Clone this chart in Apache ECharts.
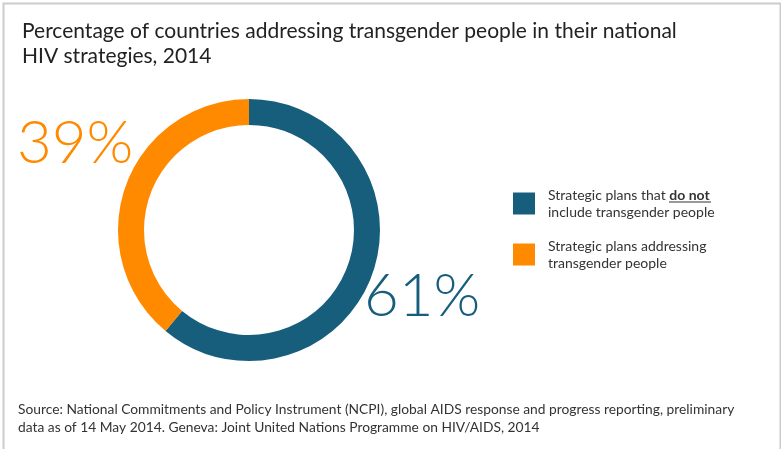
<!DOCTYPE html>
<html><head><meta charset="utf-8">
<script src="https://cdn.jsdelivr.net/npm/echarts@6/dist/echarts.min.js"></script>
<style>html,body{margin:0;padding:0;background:#fff}#c{width:781px;height:449px}</style>
</head><body><div id="c"></div>
<script>
const categories = ['Strategic plans that do not include transgender people', 'Strategic plans addressing transgender people'];
const values = [61, 39];
const colors = ['#175e7c', '#ff8a00'];

const chart = echarts.init(document.getElementById('c'), null, {renderer: 'canvas'});
const font = 'Lato, "Noto Sans", sans-serif';
chart.setOption({
  animation: false,
  backgroundColor: '#fff',
  title: [{
    text: 'Percentage of countries addressing transgender people in their national\nHIV strategies, 2014',
    left: 17, top: 14, padding: 5,
    textStyle: {fontFamily: font, fontSize: 21, fontWeight: 'normal', color: '#222', lineHeight: 25}
  }, {
    text: 'Source: National Commitments and Policy Instrument (NCPI), global AIDS response and progress reporting, preliminary\ndata as of 14 May 2014. Geneva: Joint United Nations Programme on HIV/AIDS, 2014',
    left: 13, top: 396,
    textStyle: {fontFamily: font, fontSize: 13.8, fontWeight: 'normal', color: '#333', lineHeight: 18}
  }],
  legend: {
    orient: 'vertical', left: 508, top: 183,
    itemWidth: 22, itemHeight: 22, itemGap: 20,
    icon: 'rect',
    data: categories,
    formatter: function (name) {
      if (name === categories[0]) return '{a|Strategic plans that }{b|do not}\n{a|include transgender people}';
      return '{a|Strategic plans addressing}\n{a|transgender people}';
    },
    textStyle: {
      fontFamily: font, fontSize: 14, color: '#333', padding: [0, 0, 0, 8],
      rich: {
        a: {fontFamily: font, fontSize: 14, color: '#333', lineHeight: 17},
        b: {fontFamily: font, fontSize: 14, color: '#333', fontWeight: 'bold', lineHeight: 17}
      }
    }
  },
  series: [{
    type: 'pie',
    center: [249, 230],
    radius: [105, 131],
    startAngle: 90,
    clockwise: true,
    label: {show: false},
    labelLine: {show: false},
    silent: true,
    data: categories.map((c, i) => ({name: c, value: values[i], itemStyle: {color: colors[i]}}))
  }],
  graphic: [
    {type: 'rect', left: 1, top: 1, shape: {width: 777, height: 460}, style: {fill: 'none', stroke: '#cccccc', lineWidth: 2}, silent: true},
    {type: 'text', left: 17, top: 114, style: {text: values[1] + '%', font: '300 60px ' + font, fill: colors[1]}},
    {type: 'text', left: 364, top: 267, style: {text: values[0] + '%', font: '300 60px ' + font, fill: colors[0]}},
    {type: 'line', shape: {x1: 669, y1: 202, x2: 711, y2: 202}, style: {stroke: '#333', lineWidth: 1.2}}
  ]
});
</script></body></html>
